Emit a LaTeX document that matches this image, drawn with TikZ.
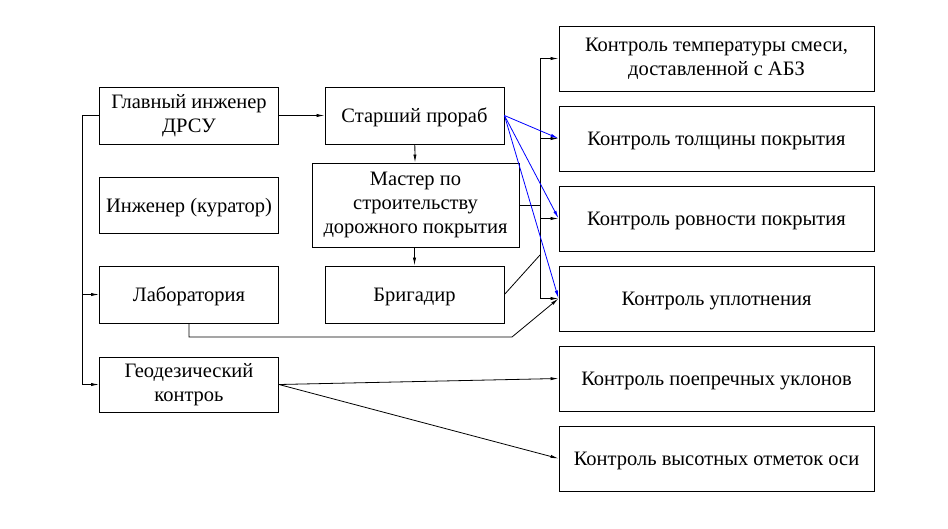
\documentclass[tikz,border=0pt]{standalone}
\usepackage{fontspec}
\setmainfont{Liberation Serif}
\usetikzlibrary{arrows.meta}
\begin{document}
\begin{tikzpicture}[x=1pt,y=-1pt,
  box/.style={draw,line width=0.9pt,minimum width=179pt,minimum height=57pt,inner sep=0pt,align=center,font=\fontsize{20.5}{24}\selectfont},
  rbox/.style={box,minimum width=315pt,minimum height=65pt},
  oneline/.style={text depth=0pt},
  arr/.style={-{Latex[length=8pt,width=3.2pt]},line width=0.8pt},
  conn/.style={line width=0.8pt},
  blu/.style={arr,draw=blue}]
\useasboundingbox (0,0) rectangle (948,528);
\node[box] (glav) at (189,115.5) {Главный инженер\\ДРСУ};
\node[box,oneline] (star) at (414.5,115.5) {Старший прораб};
\node[box,minimum width=207pt,minimum height=84pt] (mast) at (415.5,205) {Мастер по\\строительству\\дорожного покрытия};
\node[box,oneline,minimum height=56pt] (ing) at (189,205) {Инженер (куратор)};
\node[box,oneline] (lab) at (189,294.5) {Лаборатория};
\node[box,oneline] (brig) at (414.5,294.5) {Бригадир};
\node[box,minimum height=55pt] (geo) at (189,384.5) {Геодезический\\контроь};
\node[rbox] (r1) at (716.5,58.5) {Контроль температуры смеси,\\доставленной с АБЗ};
\node[rbox,oneline] (r2) at (716.5,138.5) {Контроль толщины покрытия};
\node[rbox,oneline] (r3) at (716.5,218.5) {Контроль ровности покрытия};
\node[rbox,oneline] (r4) at (716.5,298.5) {Контроль уплотнения};
\node[rbox,oneline] (r5) at (716.5,378.5) {Контроль поепречных уклонов};
\node[rbox,oneline] (r6) at (716.5,458.5) {Контроль высотных отметок оси};
% left bus
\coordinate (lb) at (82,0);
\draw[conn] (glav.west) -- (glav.west -| lb) -- (geo.west -| lb);
\draw[arr] (lab.west -| lb) -- (lab.west);
\draw[arr] (geo.west -| lb) -- (geo.west);
\draw[arr] (glav) -- (star);
\draw[arr] (star) -- (mast);
\draw[arr] (mast.south -| brig) -- (brig);
% right bus
\coordinate (rb) at (540,0);
\draw[conn] (r1.west -| rb) -- (r4.west -| rb);
\draw[arr] (r1.west -| rb) -- (r1.west);
\draw[arr] (r2.west -| rb) -- (r2.west);
\draw[arr] (r3.west -| rb) -- (r3.west);
\draw[arr] (r4.west -| rb) -- (r4.west);
\draw[conn] (mast.east) -- (mast.east -| rb);
\coordinate (bj) at (540,255);
\draw[conn] (brig.east) -- (bj);
% lab route
\coordinate (l1) at (189,337);
\coordinate (l2) at (512,337);
\draw[arr] (lab.south) -- (l1) -- (l2) -- (r4.west);
% blue
\draw[blu] (star.east) -- (r2.west);
\draw[blu] (star.east) -- (r3.west);
\draw[blu] (star.east) -- (r4.west);
% geo
\draw[arr] (geo.east) -- (r5.west);
\draw[arr] (geo.east) -- (r6.west);
\end{tikzpicture}
\end{document}
